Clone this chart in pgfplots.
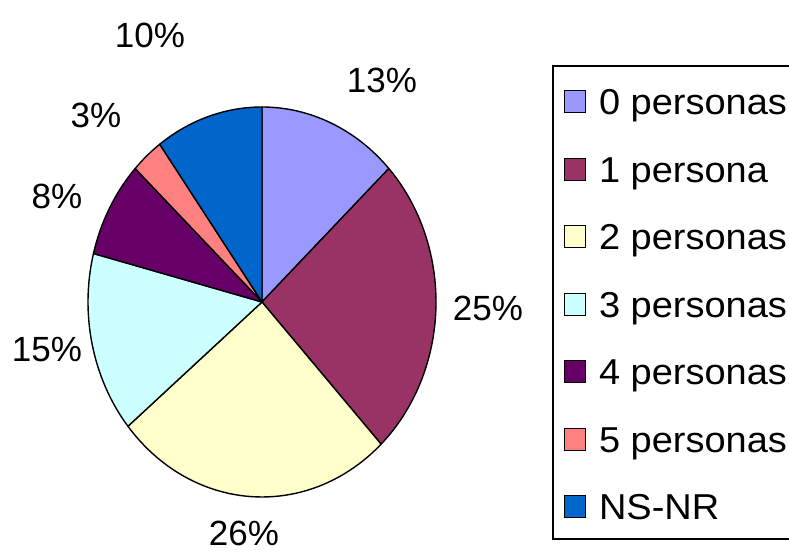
\documentclass[border=0pt]{standalone}
\usepackage{pgfplots}
\pgfplotsset{compat=1.18}
\usepackage{fontspec}
\setmainfont{Liberation Sans}
\newfontfamily\legfont[FakeStretch=1.055]{Liberation Sans}
\definecolor{c0}{HTML}{9999FF}
\definecolor{c1}{HTML}{993366}
\definecolor{c2}{HTML}{FFFFCC}
\definecolor{c3}{HTML}{CCFFFF}
\definecolor{c4}{HTML}{660066}
\definecolor{c5}{HTML}{FF8080}
\definecolor{c6}{HTML}{0066CC}
% slice: start angle (deg, clockwise from 12 o'clock = 90), percentage, colour
\newcommand{\pieslice}[3]{%
  \draw[fill=#3, draw=black, line width=1.4pt, line join=round]
    (axis cs:262,252) -- (axis cs:{262+174*cos(#1)},{252+195*sin(#1)})
    arc[start angle=#1, delta angle={-3.6*#2}, x radius=174, y radius=195] -- cycle;}
\begin{document}
\begin{tikzpicture}
\begin{axis}[
  scale only axis, width=789pt, height=554pt,
  xmin=0, xmax=789, ymin=0, ymax=554,
  hide axis, clip=false,
  legend style={at={(axis cs:552,489)}, anchor=north west, draw=black, fill=white,
    line width=1.6pt, inner xsep=11pt, inner ysep=10pt, row sep=19.5pt, column sep=13pt,
    font=\legfont\fontsize{36}{40}\selectfont,
    nodes={inner sep=0pt, text height=39pt, text depth=9pt},
    cells={anchor=base west}},
  legend image code/.code={\draw[#1, draw=black, line width=1.2pt] (0pt,2pt) rectangle (21pt,24pt);},
]
% percentages (clockwise from top): 13, 25, 26, 15, 8, 3, 10
\pieslice{90}{13}{c0}
\pieslice{43.2}{25}{c1}
\pieslice{-46.8}{26}{c2}
\pieslice{-140.4}{15}{c3}
\pieslice{-194.4}{8}{c4}
\pieslice{-223.2}{3}{c5}
\pieslice{-234}{10}{c6}
\addlegendimage{fill=c0}\addlegendentry{0 personas}
\addlegendimage{fill=c1}\addlegendentry{1 persona}
\addlegendimage{fill=c2}\addlegendentry{2 personas}
\addlegendimage{fill=c3}\addlegendentry{3 personas}
\addlegendimage{fill=c4}\addlegendentry{4 personas}
\addlegendimage{fill=c5}\addlegendentry{5 personas}
\addlegendimage{fill=c6}\addlegendentry{NS-NR}
\begin{scope}[every node/.style={font=\fontsize{35}{40}\selectfont, inner sep=0pt}]
\node at (axis cs:382,474) {13\%};
\node at (axis cs:488,246) {25\%};
\node at (axis cs:244,21) {26\%};
\node at (axis cs:47,204) {15\%};
\node at (axis cs:57,358) {8\%};
\node at (axis cs:96,439) {3\%};
\node at (axis cs:150,519) {10\%};
\end{scope}
\end{axis}
\pgfresetboundingbox
\path[use as bounding box] (0,0) rectangle (789pt,554pt);
\end{tikzpicture}
\end{document}
